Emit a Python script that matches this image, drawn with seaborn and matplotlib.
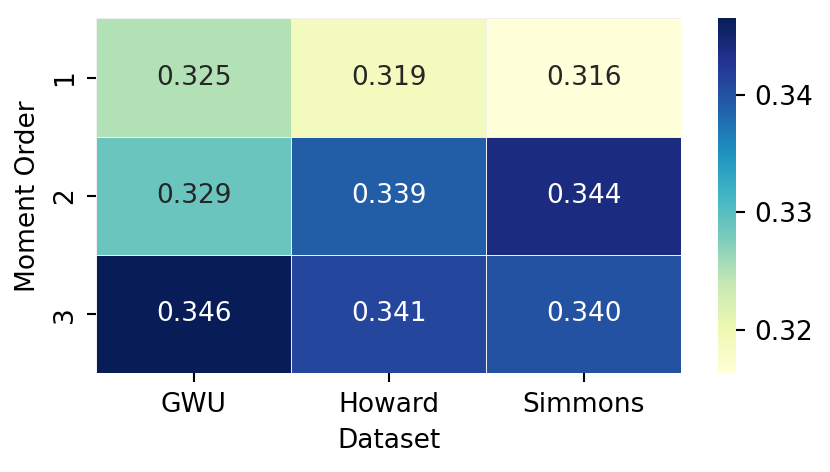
import seaborn as sns
import matplotlib.pyplot as plt
import pandas as pd

datasets = ["GWU", "Howard", "Simmons"]
moment_orders = [1, 2, 3]
order_1 = [0.325, 0.319, 0.3163]
order_2 = [0.329, 0.339, 0.344]
order_3 = [0.3465, 0.341, 0.340]

df = pd.DataFrame([order_1, order_2, order_3], index=moment_orders, columns=datasets)

fig, ax = plt.subplots(figsize=(830 / 190, 472 / 190), dpi=190)
sns.heatmap(df, annot=True, fmt=".3f", cmap="YlGnBu", linewidths=0.2, linecolor="#f0f0f0", ax=ax)
ax.set_xlabel("Dataset")
ax.set_ylabel("Moment Order")
plt.setp(ax.get_yticklabels(), rotation=90, va="center")
cbar = ax.collections[0].colorbar
cbar.set_ticks([0.32, 0.33, 0.34])
plt.subplots_adjust(left=0.116, right=0.997, top=0.961, bottom=0.209)
fig.savefig("out.png", dpi=190)
